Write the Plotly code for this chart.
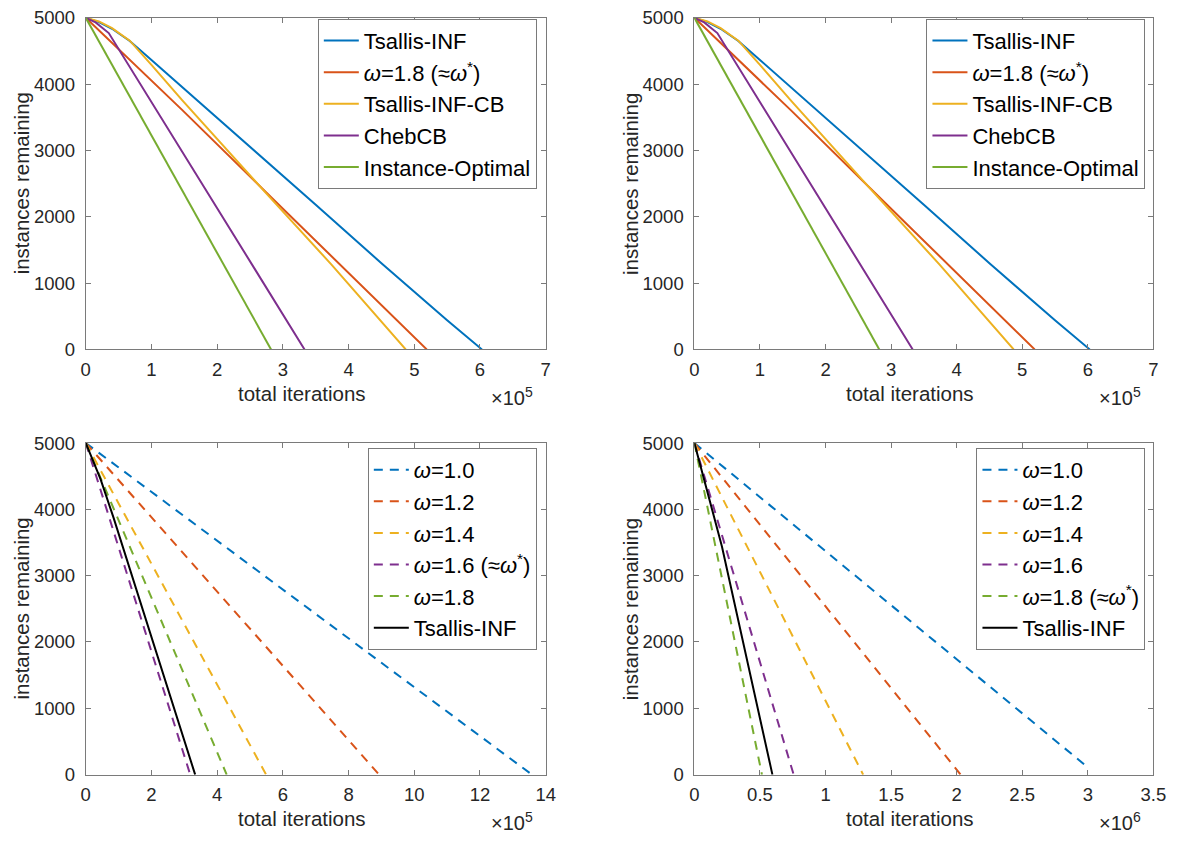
import plotly.graph_objects as go

W, H = 1188, 849

# ---------------- data ----------------
# Top row (left and right panels show the same runs); x = total iterations
top_tsallis_x = [0, 20000, 40000, 67000, 100000, 150000, 250000, 350000, 450000, 550000, 603000]
top_tsallis_y = [5000, 4935, 4835, 4650, 4365, 3930, 3060, 2180, 1300, 440, 0]
top_w18_x = [0, 30000, 147000, 274000, 387000, 519000]
top_w18_y = [5000, 4715, 3608, 2374, 1279, 0]
top_cb_x = [0, 20000, 40000, 67000, 100000, 147000, 274000, 374000, 487000]
top_cb_y = [5000, 4945, 4845, 4655, 4290, 3755, 2360, 1279, 0]
top_cheb_x = [0, 15000, 35000, 70000, 147000, 254000, 333000]
top_cheb_y = [5000, 4930, 4770, 4210, 2995, 1279, 0]
top_opt_x = [0, 282000]
top_opt_y = [5000, 0]

# Bottom-left panel
bl_w10_x = [0, 1358000]; bl_w10_y = [5000, 0]
bl_w12_x = [0, 893000];  bl_w12_y = [5000, 0]
bl_w14_x = [0, 549000];  bl_w14_y = [5000, 0]
bl_w16_x = [0, 318000];  bl_w16_y = [5000, 0]
bl_w18_x = [0, 429000];  bl_w18_y = [5000, 0]
bl_tsallis_x = [0, 45000, 85000, 112000, 333000]
bl_tsallis_y = [5000, 4456, 3868, 3451, 0]

# Bottom-right panel
br_w10_x = [0, 3000000]; br_w10_y = [5000, 110]
br_w12_x = [0, 2030000]; br_w12_y = [5000, 0]
br_w14_x = [0, 1287000]; br_w14_y = [5000, 0]
br_w16_x = [0, 757000];  br_w16_y = [5000, 0]
br_w18_x = [0, 515000];  br_w18_y = [5000, 0]
br_tsallis_x = [0, 100000, 210000, 595000]
br_tsallis_y = [5000, 4270, 3440, 0]

# ticks
y_tickvals = [0, 1000, 2000, 3000, 4000, 5000]
y_ticktext = ["0", "1000", "2000", "3000", "4000", "5000"]
top_xtickvals = [0, 100000, 200000, 300000, 400000, 500000, 600000, 700000]
top_xticktext = ["0", "1", "2", "3", "4", "5", "6", "7"]
bl_xtickvals = [0, 200000, 400000, 600000, 800000, 1000000, 1200000, 1400000]
bl_xticktext = ["0", "2", "4", "6", "8", "10", "12", "14"]
br_xtickvals = [0, 500000, 1000000, 1500000, 2000000, 2500000, 3000000, 3500000]
br_xticktext = ["0", "0.5", "1", "1.5", "2", "2.5", "3", "3.5"]

# ---------------- styling ----------------
BLUE, ORANGE, YELLOW, PURPLE, GREEN = "#0072BD", "#D95319", "#EDB120", "#7E2F8E", "#77AC30"
TXT = "#262626"
AX = "#7a7a7a"
FONT = "Liberation Sans, Arial, Helvetica, sans-serif"
LW = 2
DASH = "9px,7px"

W18 = "<i>ω</i>=1.8 (≈<i>ω</i><sup>*</sup>)"

fig = go.Figure()

def add(x, y, name, color, xa, ya, legend, dash="solid"):
    fig.add_trace(go.Scatter(x=x, y=y, mode="lines", name=name,
                             line=dict(color=color, width=LW, dash=dash),
                             xaxis=xa, yaxis=ya, legend=legend))

for xa, ya, lg in [("x", "y", "legend"), ("x2", "y2", "legend2")]:
    add(top_tsallis_x, top_tsallis_y, "Tsallis-INF", BLUE, xa, ya, lg)
    add(top_w18_x, top_w18_y, W18, ORANGE, xa, ya, lg)
    add(top_cb_x, top_cb_y, "Tsallis-INF-CB", YELLOW, xa, ya, lg)
    add(top_cheb_x, top_cheb_y, "ChebCB", PURPLE, xa, ya, lg)
    add(top_opt_x, top_opt_y, "Instance-Optimal", GREEN, xa, ya, lg)

add(bl_w10_x, bl_w10_y, "<i>ω</i>=1.0", BLUE, "x3", "y3", "legend3", DASH)
add(bl_w12_x, bl_w12_y, "<i>ω</i>=1.2", ORANGE, "x3", "y3", "legend3", DASH)
add(bl_w14_x, bl_w14_y, "<i>ω</i>=1.4", YELLOW, "x3", "y3", "legend3", DASH)
add(bl_w16_x, bl_w16_y, "<i>ω</i>=1.6 (≈<i>ω</i><sup>*</sup>)", PURPLE, "x3", "y3", "legend3", DASH)
add(bl_w18_x, bl_w18_y, "<i>ω</i>=1.8", GREEN, "x3", "y3", "legend3", DASH)
add(bl_tsallis_x, bl_tsallis_y, "Tsallis-INF", "#000000", "x3", "y3", "legend3")

add(br_w10_x, br_w10_y, "<i>ω</i>=1.0", BLUE, "x4", "y4", "legend4", DASH)
add(br_w12_x, br_w12_y, "<i>ω</i>=1.2", ORANGE, "x4", "y4", "legend4", DASH)
add(br_w14_x, br_w14_y, "<i>ω</i>=1.4", YELLOW, "x4", "y4", "legend4", DASH)
add(br_w16_x, br_w16_y, "<i>ω</i>=1.6", PURPLE, "x4", "y4", "legend4", DASH)
add(br_w18_x, br_w18_y, W18, GREEN, "x4", "y4", "legend4", DASH)
add(br_tsallis_x, br_tsallis_y, "Tsallis-INF", "#000000", "x4", "y4", "legend4")

def px(x):
    return x / W

def py(y):
    return 1 - y / H

panels = {
    # name: (left, right, top, bottom) in pixels
    "1": (82, 549, 7, 347),
    "2": (700, 1166, 7, 347),
    "3": (82, 549, 443, 783),
    "4": (700, 1166, 443, 783),
}
xranges = {"1": [0, 700000], "2": [0, 700000], "3": [0, 1400000], "4": [0, 3500000]}
xticks = {"1": (top_xtickvals, top_xticktext), "2": (top_xtickvals, top_xticktext),
          "3": (bl_xtickvals, bl_xticktext), "4": (br_xtickvals, br_xticktext)}

axis_common = dict(showline=True, linecolor=AX, linewidth=1, mirror="ticks",
                   ticks="inside", ticklen=5, tickcolor=AX, tickwidth=1,
                   showgrid=False, zeroline=False,
                   tickfont=dict(family=FONT, size=18.5, color=TXT))

layout = {}
for k, (l, r, t, b) in panels.items():
    suf = "" if k == "1" else k
    tv, tt = xticks[k]
    layout["xaxis" + suf] = dict(axis_common, domain=[px(l), px(r)], range=xranges[k],
                                 tickvals=tv, ticktext=tt, anchor="y" + suf,
                                 ticklabelstandoff=3)
    layout["yaxis" + suf] = dict(axis_common, domain=[py(b), py(t)], range=[0, 5000],
                                 tickvals=y_tickvals, ticktext=y_ticktext, anchor="x" + suf,
                                 ticklabelstandoff=6)

leg_common = dict(bgcolor="white", bordercolor=AX, borderwidth=1,
                  font=dict(family=FONT, size=22, color="#000000"),
                  xanchor="right", yanchor="top", itemwidth=35, tracegroupgap=0)
layout["legend"] = dict(leg_common, x=px(540), y=py(8))
layout["legend2"] = dict(leg_common, x=px(1158), y=py(8))
layout["legend3"] = dict(leg_common, x=px(540), y=py(448))
layout["legend4"] = dict(leg_common, x=px(1158), y=py(448))

annotations = []
for k, (l, r, t, b) in panels.items():
    cx = (l + r) / 2 - 14
    annotations.append(dict(text="total iterations", x=px(cx), y=py(b + 45), xref="paper", yref="paper",
                            showarrow=False, xanchor="center", yanchor="middle",
                            font=dict(family=FONT, size=20.5, color=TXT)))
    annotations.append(dict(text="instances remaining", x=px(l - 65), y=py((t + b) / 2), xref="paper",
                            yref="paper", showarrow=False, textangle=-90, xanchor="center",
                            yanchor="middle", font=dict(family=FONT, size=20.5, color=TXT)))
exps = {"1": "5", "2": "5", "3": "5", "4": "6"}
for k, (l, r, t, b) in panels.items():
    annotations.append(dict(text="×10<sup>" + exps[k] + "</sup>", x=px(r - 11), y=py(b + 48),
                            xref="paper", yref="paper", showarrow=False, xanchor="right",
                            yanchor="middle", font=dict(family=FONT, size=20, color=TXT)))

fig.update_layout(**layout)
fig.update_layout(annotations=annotations, width=W, height=H,
                  margin=dict(l=0, r=0, t=0, b=0), paper_bgcolor="white",
                  plot_bgcolor="white", showlegend=True)

fig.write_html("out.html")
